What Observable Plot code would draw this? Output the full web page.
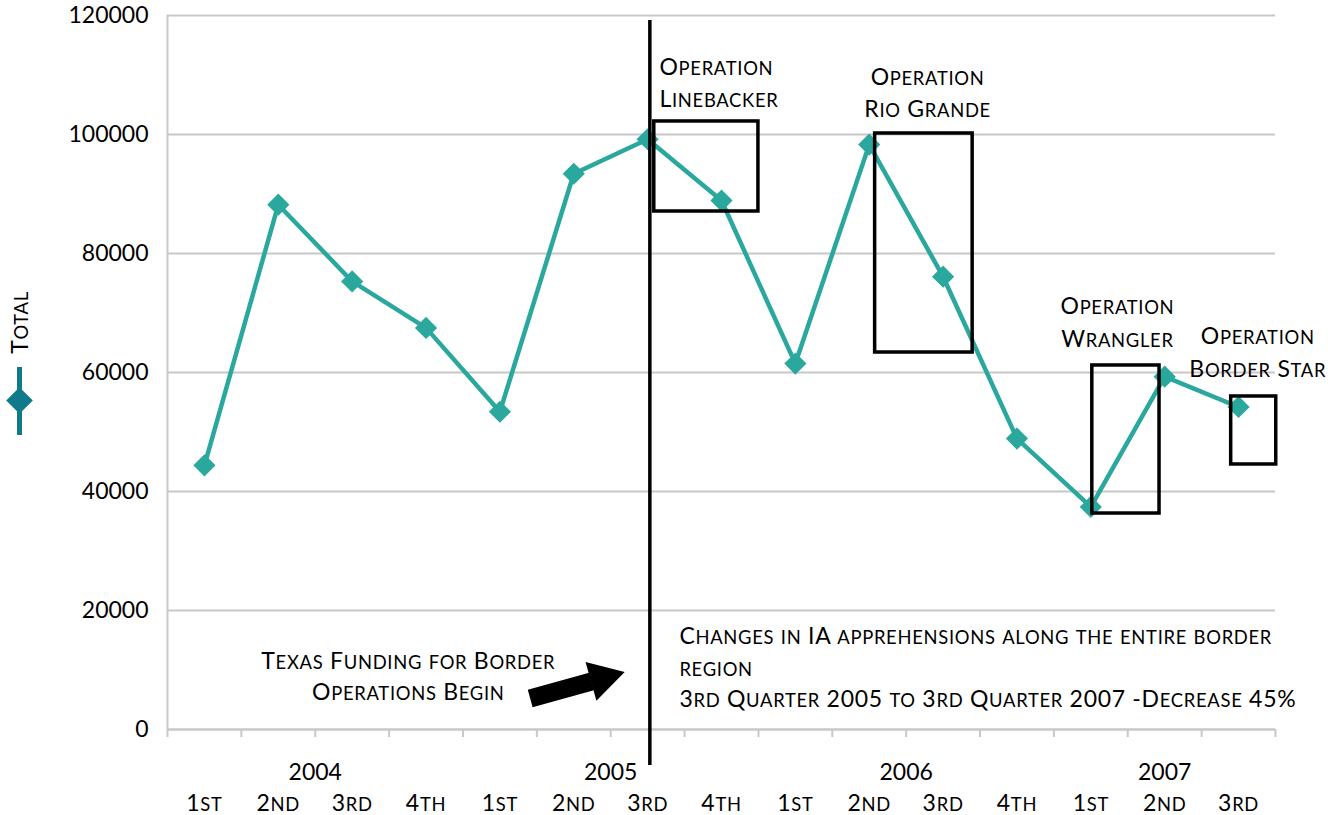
<!DOCTYPE html>
<html><head><meta charset="utf-8">
<script src="https://cdn.jsdelivr.net/npm/d3@7"></script>
<script src="https://cdn.jsdelivr.net/npm/@observablehq/plot@0.6"></script>
<style>
html,body{margin:0;padding:0;background:#fff;}
</style></head><body><div id="chart"></div>
<script>
// ---- data ----
const quarters = ["1st","2nd","3rd","4th","1st","2nd","3rd","4th","1st","2nd","3rd","4th","1st","2nd","3rd"];
const years = ["2004","2005","2006","2007"];
const yearCenters = [1.5, 5.5, 9.5, 13];
const totals = [44400, 88200, 75300, 67500, 53400, 93400, 99200, 88900, 61500, 98300, 76100, 48900, 37400, 59300, 54200];
const yTicks = [0, 20000, 40000, 60000, 80000, 100000, 120000];
const boundaries = d3.range(-0.5, 15, 1);

// annotations (data units)
const opNames = ["Operation\nLinebacker", "Operation\nRio Grande", "Operation\nWrangler", "Operation\nBorder Star"];
const opLabelX = [6.16, 9.79, 12.36, 14.26];
const opLabelY = [109000, 107300, 68800, 63750];
const opAnchor = ["start", "middle", "middle", "middle"];
const opBoxX1 = [6.09, 9.08, 12.02, 13.90];
const opBoxX2 = [7.50, 10.40, 12.93, 14.51];
const opBoxY1 = [87060, 63360, 36300, 44540];
const opBoxY2 = [102190, 100170, 61180, 55970];
const startLineX = 6.03;
const fundingText = "Texas Funding for Border\nOperations Begin";
const changesText = "Changes in IA apprehensions along the entire border\nregion\n3rd Quarter 2005 to 3rd Quarter 2007 -Decrease 45%";
const arrowShaft = [{x: 4.41, y: 5210}, {x: 5.24, y: 8070}];
const arrowHead = [{x: 5.385, y: 8620}];

const lineColor = "#2ba89e";
const legendColor = "#0f7b8a";
const gridColor = "#c8c8c8";
const font = "Lato, 'Open Sans', sans-serif";

const ops = opNames.map((n, i) => ({n, lx: opLabelX[i], ly: opLabelY[i], a: opAnchor[i], x1: opBoxX1[i], x2: opBoxX2[i], y1: opBoxY1[i], y2: opBoxY2[i]}));
const pts = totals.map((v, i) => ({i, v}));

const chart = Plot.plot({
  width: 1328,
  height: 815,
  marginLeft: 167,
  marginRight: 53,
  marginTop: 15,
  marginBottom: 86,
  style: {fontFamily: font, fontSize: "23px", color: "#000", background: "#fff"},
  x: {type: "linear", domain: [-0.5, 14.5]},
  y: {domain: [0, 120000]},
  marks: [
    Plot.gridY({ticks: yTicks, stroke: gridColor, strokeOpacity: 1, strokeWidth: 2}),
    Plot.ruleX([-0.5], {y1: 0, y2: 120000, stroke: gridColor, strokeWidth: 2}),
    Plot.ruleY([0], {stroke: gridColor, strokeWidth: 2}),
    Plot.axisX({ticks: boundaries, tickSize: 8, tickFormat: () => "", label: null, stroke: gridColor, strokeWidth: 2}),
    Plot.axisY({ticks: yTicks, tickSize: 0, tickPadding: 19, label: null, fontSize: 23, tickFormat: d => String(d)}),
    // quarter and year labels
    Plot.text(quarters, {x: (d, i) => i, y: () => 0, text: d => d, dy: 74, fontSize: 23, fill: "#000"}),
    Plot.text(years, {x: (d, i) => yearCenters[i], y: () => 0, text: d => d, dy: 43, fontSize: 23, fill: "#000"}),
    // series
    Plot.line(pts, {x: "i", y: "v", stroke: lineColor, strokeWidth: 4.5}),
    Plot.dot(pts, {x: "i", y: "v", symbol: "diamond2", r: 10, fill: lineColor, stroke: "none"}),
    // start line
    Plot.ruleX([startLineX], {y1: 119160, y2: -6050, stroke: "#000", strokeWidth: 3.5}),
    // operation boxes and labels
    Plot.rect(ops, {x1: "x1", x2: "x2", y1: "y1", y2: "y2", fill: "none", stroke: "#000", strokeWidth: 3.5}),
    Plot.text(ops, {x: "lx", y: "ly", text: "n", textAnchor: "start", lineHeight: 1.4, fontSize: 23, fill: "#000", filter: d => d.a === "start"}),
    Plot.text(ops, {x: "lx", y: "ly", text: "n", textAnchor: "middle", lineHeight: 1.4, fontSize: 23, fill: "#000", filter: d => d.a === "middle"}),
    // funding annotation with arrow
    Plot.text([fundingText], {x: () => 2.76, y: () => 9300, text: d => d, textAnchor: "middle", lineHeight: 1.35, fontSize: 23, fill: "#000"}),
    Plot.line(arrowShaft, {x: "x", y: "y", stroke: "#000", strokeWidth: 18, strokeLinecap: "butt"}),
    Plot.dot(arrowHead, {x: "x", y: "y", symbol: "triangle", r: 15, rotate: 74.4, fill: "#000", stroke: "none"}),
    Plot.text([changesText], {x: () => 6.43, y: () => 10750, text: d => d, textAnchor: "start", lineHeight: 1.37, fontSize: 23, fill: "#000"}),
    // legend in left margin
    Plot.text(["Total"], {x: () => -0.5, y: () => 68400, text: d => d, dx: -147, rotate: -90, fontSize: 23, fill: "#000"}),
    Plot.ruleX([-0.5], {y1: 60840, y2: 49410, dx: -148, stroke: legendColor, strokeWidth: 5}),
    Plot.dot([0], {x: () => -0.5, y: () => 55290, dx: -148, symbol: "diamond2", r: 12, fill: legendColor, stroke: "none"})
  ]
});

// render lowercase letters as small capitals (Calibri-like small caps)
function smallCaps(svg, ratio, spacing) {
  const leaves = [];
  svg.querySelectorAll("text").forEach(t => {
    const tspans = t.querySelectorAll("tspan");
    if (tspans.length) tspans.forEach(s => leaves.push(s)); else leaves.push(t);
  });
  for (const el of leaves) {
    const str = el.textContent;
    if (!/[a-z]/.test(str)) continue;
    el.textContent = "";
    el.style.letterSpacing = spacing;
    const re = /([a-z]+)|([^a-z]+)/g;
    let m;
    while ((m = re.exec(str))) {
      const ts = document.createElementNS("http://www.w3.org/2000/svg", "tspan");
      if (m[1]) { ts.textContent = m[1].toUpperCase(); ts.style.fontSize = ratio + "em"; }
      else ts.textContent = m[2];
      el.appendChild(ts);
    }
  }
}
smallCaps(chart, 0.8, "0.7px");
document.getElementById("chart").appendChild(chart);
</script></body></html>
